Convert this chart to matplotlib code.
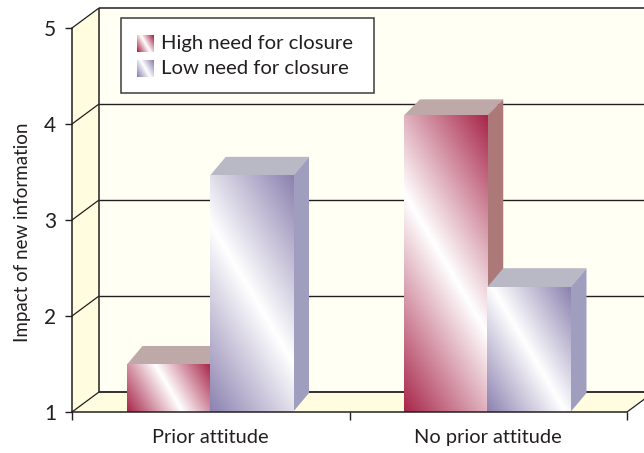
import numpy as np
import matplotlib
matplotlib.use("Agg")
import matplotlib.pyplot as plt
from matplotlib.patches import Polygon, Rectangle
from matplotlib.colors import LinearSegmentedColormap

categories = ["Prior attitude", "No prior attitude"]
series_names = ["High need for closure", "Low need for closure"]
high_values = [1.49, 4.09]
low_values = [3.46, 2.30]
y_ticks = [1, 2, 3, 4, 5]
y_label = "Impact of new information"

W, H = 644, 453
plt.rcParams['font.family'] = ['Lato', 'DejaVu Sans']
TEXT = '#231f20'
WALL = '#fffff3'
SIDE = '#fffce0'
fig = plt.figure(figsize=(W / 100, H / 100), dpi=100)
L, R, T, B = 72, 627, 28, 412
ax = fig.add_axes([L / W, 1 - B / H, (R - L) / W, (B - T) / H])
ax.set_xlim(0, 2)
ax.set_ylim(1, 5)
pxx = 2 / (R - L)
pxy = 4 / (B - T)
DX, DY = 27 * pxx, 20 * pxy      # chart depth
BDX = 16 * pxx                   # bar depth
BW = 0.30
SHIFT = -1 * pxx

def poly(pts, fc, ec='none', lw=0, z=1):
    ax.add_patch(Polygon(pts, closed=True, fc=fc, ec=ec, lw=lw, zorder=z, clip_on=False))

def line(xs, ys, lw=1.0, z=2):
    ax.plot(xs, ys, color=TEXT, lw=lw, zorder=z, clip_on=False, solid_capstyle='butt')

# walls and floor
poly([(DX, 1 + DY), (2 + DX, 1 + DY), (2 + DX, 5 + DY), (DX, 5 + DY)], WALL)
poly([(0, 1), (DX, 1 + DY), (DX, 5 + DY), (0, 5)], SIDE)
poly([(0, 1), (2, 1), (2 + DX, 1 + DY), (DX, 1 + DY)], SIDE)
line([DX, DX], [1 + DY, 5 + DY], 1.1)
line([DX, 2 + DX], [5 + DY, 5 + DY], 1.1)
line([DX, 2 + DX], [1 + DY, 1 + DY], 1.3)
line([2, 2 + DX], [1, 1 + DY], 0.9)
for v in y_ticks:
    line([0, DX], [v, v + DY], 0.9)
    if 1 < v < 5:
        line([DX, 2 + DX], [v + DY, v + DY], 1.0)

def gradient(w, h, dark, slope=1.7):
    ys, xs = np.mgrid[0:max(int(h), 2), 0:max(int(w), 2)]
    xs = xs - xs.mean()
    ys = ys - ys.mean()
    t = slope * xs - ys
    t = np.abs(t) / np.abs(t).max()
    cmap = LinearSegmentedColormap.from_list('g', ['#ffffff', dark])
    return cmap(t)

def bar(x0, val, dark, top, side, depth_px=19):
    x1 = x0 + BW
    d = depth_px * pxy
    poly([(x0, val), (x1, val), (x1 + BDX, val + d), (x0 + BDX, val + d)], top, z=3)
    poly([(x1, 1), (x1 + BDX, 1 + 19 * pxy), (x1 + BDX, val + d), (x1, val)], side, z=3)
    ax.imshow(gradient(BW / pxx, (val - 1) / pxy, dark), extent=(x0, x1, 1, val),
              aspect='auto', zorder=3, interpolation='bilinear', clip_on=False)

RED = ('#a8264a', '#bfa8a8', '#ac7878')
BLUE = ('#8c82b0', '#b9b9c6', '#a09ebe')
for i in range(len(categories)):
    bar(i + 0.5 - BW + SHIFT, high_values[i], *RED, depth_px=16 if i == 1 else 19)
    bar(i + 0.5 + SHIFT, low_values[i], *BLUE)

ax.set_xlim(0, 2)
ax.set_ylim(1, 5)

# axes
for s in ('top', 'right'):
    ax.spines[s].set_visible(False)
for s in ('left', 'bottom'):
    ax.spines[s].set_color(TEXT)
    ax.spines[s].set_linewidth(1.1)
    ax.spines[s].set_zorder(5)
ax.set_yticks(y_ticks)
ax.set_xticks([0, 1, 2])
ax.set_xticklabels([])
ax.set_xticks([0.5, 1.5], categories, minor=True)
ax.tick_params(axis='x', which='major', length=5.5, width=1, color=TEXT)
ax.tick_params(axis='x', which='minor', length=0, pad=12, labelsize=14.4, labelcolor=TEXT)
ax.tick_params(axis='y', length=5, width=1, color=TEXT, labelsize=15, labelcolor=TEXT, pad=6.5)
fig.text(23 / W, 1 - 232 / H, y_label, rotation=90, ha='center', va='center',
         fontsize=13.5, color=TEXT)

# legend
def X(p): return (p - L) * pxx
def Y(p): return 5 - (p - T) * pxy
ax.add_patch(Rectangle((X(121), Y(93)), 253 * pxx, 75 * pxy, fc='white', ec='#3c3c3c',
                       lw=1.1, zorder=6, clip_on=False))
for name, col, yc in zip(series_names, (RED[0], BLUE[0]), (44, 69)):
    ax.imshow(gradient(17, 17, col), extent=(X(137), X(154), Y(yc + 8.5), Y(yc - 8.5)),
              aspect='auto', zorder=7, interpolation='bilinear', clip_on=False)
    ax.text(X(161), Y(yc), name, fontsize=14.55, color=TEXT, va='center', ha='left', zorder=7)
ax.set_xlim(0, 2)
ax.set_ylim(1, 5)
fig.savefig('out.png', dpi=100)
